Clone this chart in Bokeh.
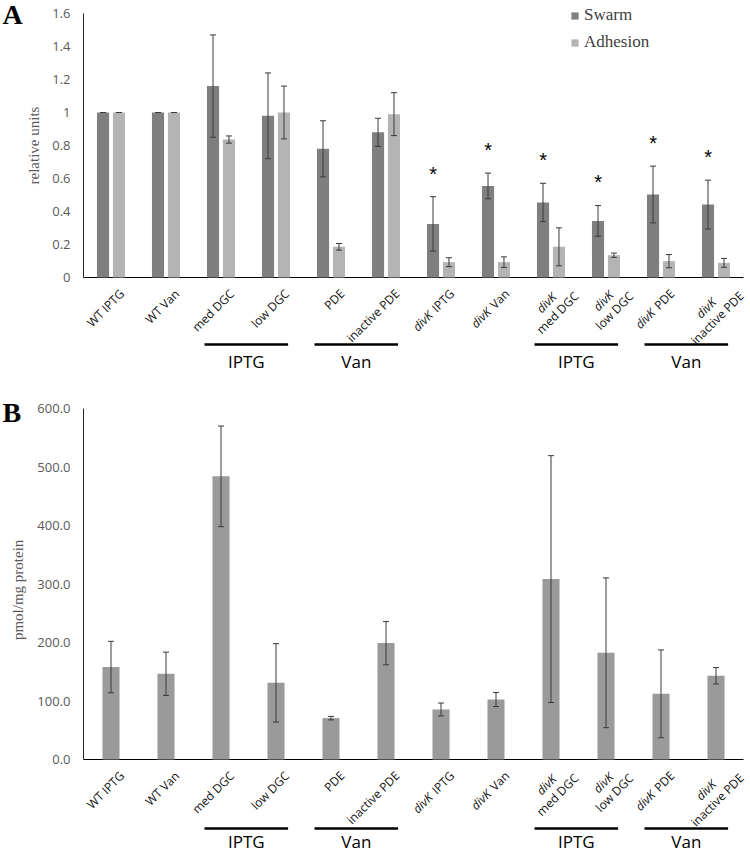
import numpy as np
from bokeh.plotting import figure
from bokeh.models import (ColumnDataSource, Whisker, TeeHead, Legend, LegendItem, FixedTicker)
from bokeh.layouts import column
from bokeh.embed import file_html
from bokeh.resources import INLINE
from bokeh.core.properties import value

# ---------------- data ----------------
categories = ["WT IPTG", "WT Van", "med DGC", "low DGC", "PDE", "inactive PDE",
              "divK IPTG", "divK Van", "divK\nmed DGC", "divK\nlow DGC",
              "divK PDE", "divK\ninactive PDE"]

swarm = [1.0, 1.0, 1.16, 0.98, 0.78, 0.88, 0.325, 0.555, 0.455, 0.343, 0.503, 0.442]
swarm_err = [0.0, 0.0, 0.31, 0.26, 0.17, 0.085, 0.165, 0.078, 0.116, 0.093, 0.172, 0.148]
adhesion = [1.0, 1.0, 0.836, 1.0, 0.186, 0.99, 0.093, 0.093, 0.186, 0.135, 0.099, 0.089]
adhesion_err = [0.0, 0.0, 0.022, 0.16, 0.02, 0.13, 0.027, 0.032, 0.115, 0.013, 0.04, 0.027]
significant = [False, False, False, False, False, False, True, True, True, True, True, True]

cdg = [158, 146.5, 484, 131, 70.7, 199, 85.5, 102.6, 308.4, 182.4, 112.3, 143.1]
cdg_err = [44, 37, 86, 67, 3, 37, 11, 12, 211, 128, 75, 14]

groups = ["IPTG", "Van", "IPTG", "Van"]
group_first = [2, 4, 8, 10]
group_last = [3, 5, 9, 11]

a_ticks = [0, 0.2, 0.4, 0.6, 0.8, 1.0, 1.2, 1.4, 1.6]
a_tick_labels = ["0", "0.2", "0.4", "0.6", "0.8", "1", "1.2", "1.4", "1.6"]
b_ticks = [0, 100, 200, 300, 400, 500, 600]
b_tick_labels = ["0.0", "100.0", "200.0", "300.0", "400.0", "500.0", "600.0"]

# ---------------- style / layout ----------------
W_FIG = 750
AXIS_X = 83          # pixel position of the value axis
KX = 55.0            # px per category
N = len(categories)
X_START = -AXIS_X / KX
X_END = (W_FIG - AXIS_X) / KX

SANS = "Open Sans"
SERIF = "Liberation Serif"
TICK_COLOR = "#595959"
XLAB_SIZE = 12

# approximate advance widths (em) of Open Sans, used to lay out rotated multi-style labels
OS_W = {' ': 0.26, 'a': 0.556, 'c': 0.476, 'd': 0.613, 'e': 0.561, 'i': 0.253, 'l': 0.253,
        'm': 0.93, 'n': 0.614, 'o': 0.604, 't': 0.344, 'v': 0.514, 'w': 0.781, 'C': 0.634,
        'D': 0.722, 'E': 0.535, 'G': 0.722, 'I': 0.266, 'K': 0.601, 'P': 0.604, 'T': 0.559,
        'V': 0.593, 'W': 0.921}


def tw(s, size):
    return sum(OS_W.get(c, 0.56) for c in s) * size


LABEL_OFF = {1: (11.0, 14.0), 2: (20.0, 11.0)}


def draw_xlabels(p, ky):
    size = XLAB_SIZE
    d = np.array([0.7071, -0.7071])
    nvec = np.array([0.7071, 0.7071])
    lh = 15.0
    norm = dict(x=[], y=[], text=[])
    ital = dict(x=[], y=[], text=[])
    for i, lab in enumerate(categories):
        lines = lab.split("\n")
        nl = len(lines)
        widths = [tw(l, size) for l in lines]
        Wb = max(widths)
        M = np.array(LABEL_OFF[nl])
        for j, line in enumerate(lines):
            Mj = M + (j - (nl - 1) / 2) * lh * nvec
            Cj = Mj - (Wb / 2) * d
            Sj = Cj - (widths[j] / 2) * d
            if line.startswith("divK"):
                segs = [("divK", True, tw("divK ", size)), (line[5:], False, 0)]
            else:
                segs = [(line, False, 0)]
            pos = 0.0
            for txt, is_it, adv in segs:
                if txt:
                    P = Sj + pos * d
                    tgt = ital if is_it else norm
                    tgt["x"].append(i + 0.5 + P[0] / KX)
                    tgt["y"].append(-P[1] / ky)
                    tgt["text"].append(txt)
                pos += adv
    for src, style in ((norm, "normal"), (ital, "italic")):
        p.text(x="x", y="y", text="text", source=ColumnDataSource(src), angle=np.pi / 4,
               text_align="left", text_baseline="middle", text_font=value(SANS),
               text_font_size=f"{size}px", text_font_style=style, text_color="#111111")


def draw_groups(p, y_line, y_text):
    x0 = [f + 0.2 for f in group_first]
    x1 = [l + 0.72 for l in group_last]
    p.segment(x0=x0, x1=x1, y0=[y_line] * len(groups), y1=[y_line] * len(groups),
              line_color="black", line_width=2.5)
    p.text(x=[(a + b) / 2 for a, b in zip(x0, x1)], y=[y_text] * len(groups), text=groups,
           text_align="center", text_baseline="middle", text_font=value(SANS),
           text_font_size="17px", text_color="black")


def make_fig(height, y_start, y_end, ticks, labels, bounds):
    p = figure(width=W_FIG, height=height, x_range=(X_START, X_END), y_range=(y_start, y_end),
               x_axis_location=None, toolbar_location=None, output_backend="svg",
               min_border_left=0, min_border_right=0, min_border_top=0, min_border_bottom=0)
    p.grid.visible = False
    p.outline_line_color = None
    ax = p.yaxis[0]
    ax.fixed_location = 0
    ax.ticker = FixedTicker(ticks=ticks)
    ax.major_label_overrides = {t: l for t, l in zip(ticks, labels)}
    ax.bounds = bounds
    ax.major_tick_line_color = None
    ax.minor_tick_line_color = None
    ax.major_tick_out = 0
    ax.major_tick_in = 0
    ax.major_label_standoff = 13
    ax.axis_line_color = "#262626"
    ax.major_label_text_font = SANS
    ax.major_label_text_font_size = "13px"
    ax.major_label_text_color = TICK_COLOR
    # category (x) axis line
    p.segment(x0=[0], x1=[N], y0=[0], y1=[0], line_color="black", line_width=1)
    return p


def side_texts(p, ky, y0_px, title, title_x_px, title_y, letter, letter_base_px):
    p.text(x=[(title_x_px - AXIS_X) / KX], y=[title_y], text=[title], angle=np.pi / 2,
           text_align="center", text_baseline="middle", text_font=value(SERIF),
           text_font_size="15px", text_color=TICK_COLOR)
    p.text(x=[(2 - AXIS_X) / KX], y=[(y0_px - letter_base_px) / ky], text=[letter],
           text_align="left", text_baseline="alphabetic", text_font=value(SERIF),
           text_font_style="bold", text_font_size="28px", text_color="black")


xc = np.arange(N) + 0.5

# ---------------- panel A ----------------
KY_A = 165.0
HA = 398
A_ZERO = 277.0                 # pixel row of value 0
a_top = A_ZERO / KY_A
a_bot = a_top - HA / KY_A
pA = make_fig(HA, a_bot, a_top, a_ticks, a_tick_labels, (0, 1.6))

srcA = ColumnDataSource(dict(
    xs=xc - 0.145, xa=xc + 0.145,
    sw=swarm, ad=adhesion,
    sw_up=np.array(swarm) + np.array(swarm_err), sw_lo=np.array(swarm) - np.array(swarm_err),
    ad_up=np.array(adhesion) + np.array(adhesion_err), ad_lo=np.array(adhesion) - np.array(adhesion_err),
))
r_sw = pA.vbar(x="xs", top="sw", width=0.22, source=srcA, fill_color="#7f7f7f", line_color=None)
r_ad = pA.vbar(x="xa", top="ad", width=0.22, source=srcA, fill_color="#b4b4b4", line_color=None)
for base, up, lo in (("xs", "sw_up", "sw_lo"), ("xa", "ad_up", "ad_lo")):
    w = Whisker(source=srcA, base=base, upper=up, lower=lo, line_color="#3a3a3a", line_width=1,
                upper_head=TeeHead(size=6, line_color="#3a3a3a", line_width=1),
                lower_head=TeeHead(size=6, line_color="#3a3a3a", line_width=1), level="annotation")
    pA.add_layout(w)

sig_x = [x for x, s in zip(xc - 0.145, significant) if s]
sig_y = [v + e + 0.14 for v, e, s in zip(swarm, swarm_err, significant) if s]
pA.text(x=sig_x, y=sig_y, text=["*"] * len(sig_x), text_align="center",
        text_baseline="alphabetic", text_font=value("Liberation Sans"),
        text_font_size="20px", text_color="black")

draw_xlabels(pA, KY_A)
draw_groups(pA, -(344 - A_ZERO) / KY_A, -(360.5 - A_ZERO) / KY_A)

legend = Legend(items=[LegendItem(label="Swarm", renderers=[r_sw]),
                       LegendItem(label="Adhesion", renderers=[r_ad])],
                location=(570, HA - 52), glyph_width=9, glyph_height=9, label_standoff=5,
                spacing=7, padding=0, margin=0, label_height=20,
                label_text_font=SERIF, label_text_font_size="17px", label_text_color="#404040",
                background_fill_alpha=0, border_line_color=None)
pA.add_layout(legend)

side_texts(pA, KY_A, A_ZERO, "relative units", 33, 0.8, "A", 14)

# ---------------- panel B ----------------
HB = 854 - HA
KY_B = (759 - 408) / 600.0
B_ZERO = 759 - HA             # pixel row of value 0 inside figure B
b_top = B_ZERO / KY_B
b_bot = b_top - HB / KY_B
pB = make_fig(HB, b_bot, b_top, b_ticks, b_tick_labels, (0, 600))

srcB = ColumnDataSource(dict(x=xc, v=cdg,
                             up=np.array(cdg) + np.array(cdg_err),
                             lo=np.array(cdg) - np.array(cdg_err)))
pB.vbar(x="x", top="v", width=0.31, source=srcB, fill_color="#9a9a9a", line_color=None)
pB.add_layout(Whisker(source=srcB, base="x", upper="up", lower="lo", line_color="#3a3a3a",
                      line_width=1, upper_head=TeeHead(size=6, line_color="#3a3a3a", line_width=1),
                      lower_head=TeeHead(size=6, line_color="#3a3a3a", line_width=1),
                      level="annotation"))

draw_xlabels(pB, KY_B)
draw_groups(pB, -(828 - 759) / KY_B, -(841 - 759) / KY_B)

side_texts(pB, KY_B, B_ZERO, "pmol/mg protein", 17, 290, "B", 412 - HA)

layout = column(pA, pB, spacing=0)
open("out.html", "w").write(file_html(layout, INLINE))
